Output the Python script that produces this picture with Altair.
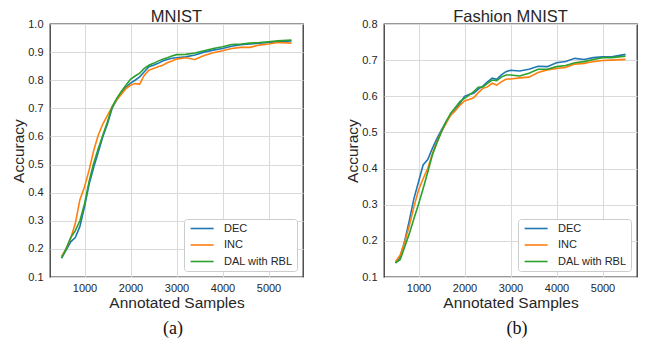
import altair as alt
import pandas as pd

samples = [500, 600, 700, 800, 900, 1000, 1100, 1200, 1300, 1400, 1500, 1600, 1700, 1800, 1900,
           2000, 2100, 2200, 2300, 2400, 2500, 2600, 2700, 2800, 2900, 3000, 3200, 3400, 3600,
           3800, 4000, 4200, 4400, 4600, 4800, 5000, 5200, 5500]

series_names = ["DEC", "INC", "DAL with RBL"]
series_colors = ["#1f77b4", "#ff7f0e", "#2ca02c"]

mnist_dec = [0.167, 0.196, 0.225, 0.240, 0.280, 0.350, 0.430, 0.490, 0.545, 0.600, 0.645, 0.700,
             0.730, 0.753, 0.775, 0.790, 0.800, 0.812, 0.830, 0.848, 0.853, 0.860, 0.868, 0.874,
             0.878, 0.880, 0.883, 0.890, 0.900, 0.907, 0.913, 0.921, 0.926, 0.929, 0.932, 0.934,
             0.937, 0.940]
mnist_inc = [0.173, 0.200, 0.238, 0.290, 0.375, 0.420, 0.480, 0.550, 0.605, 0.645, 0.675, 0.705,
             0.730, 0.750, 0.770, 0.782, 0.788, 0.786, 0.818, 0.836, 0.842, 0.848, 0.853, 0.862,
             0.868, 0.875, 0.880, 0.874, 0.888, 0.898, 0.905, 0.913, 0.917, 0.917, 0.925, 0.929,
             0.934, 0.932]
mnist_dal = [0.167, 0.200, 0.240, 0.265, 0.300, 0.360, 0.440, 0.505, 0.557, 0.605, 0.652, 0.705,
             0.735, 0.760, 0.782, 0.803, 0.815, 0.825, 0.842, 0.853, 0.860, 0.868, 0.875, 0.880,
             0.886, 0.891, 0.892, 0.897, 0.905, 0.913, 0.919, 0.927, 0.929, 0.932, 0.934, 0.937,
             0.940, 0.943]

fashion_dec = [0.139, 0.155, 0.200, 0.256, 0.317, 0.363, 0.410, 0.425, 0.455, 0.483, 0.507, 0.530,
               0.548, 0.562, 0.580, 0.600, 0.605, 0.608, 0.620, 0.628, 0.640, 0.650, 0.647, 0.659,
               0.668, 0.672, 0.670, 0.675, 0.683, 0.682, 0.693, 0.696, 0.705, 0.702, 0.707, 0.709,
               0.709, 0.716]
fashion_inc = [0.142, 0.160, 0.196, 0.242, 0.294, 0.340, 0.372, 0.400, 0.440, 0.474, 0.502, 0.525,
               0.548, 0.560, 0.575, 0.587, 0.591, 0.596, 0.610, 0.622, 0.626, 0.636, 0.631, 0.640,
               0.647, 0.648, 0.651, 0.653, 0.666, 0.673, 0.677, 0.680, 0.689, 0.691, 0.696, 0.699,
               0.700, 0.702]
fashion_dal = [0.139, 0.148, 0.183, 0.220, 0.261, 0.301, 0.344, 0.390, 0.437, 0.471, 0.502, 0.530,
               0.553, 0.569, 0.585, 0.594, 0.603, 0.613, 0.625, 0.626, 0.636, 0.645, 0.643, 0.653,
               0.659, 0.659, 0.656, 0.664, 0.675, 0.675, 0.682, 0.685, 0.693, 0.696, 0.702, 0.707,
               0.707, 0.711]

x_ticks = [1000, 2000, 3000, 4000, 5000]
mnist_y_ticks = [0.1, 0.2, 0.3, 0.4, 0.5, 0.6, 0.7, 0.8, 0.9, 1.0]
fashion_y_ticks = [0.1, 0.2, 0.3, 0.4, 0.5, 0.6, 0.7, 0.8]

W, H = 253, 253
FONT = "Liberation Sans"
TXT = "#262626"


def make_df(vals):
    rows = []
    for name, ys in zip(series_names, vals):
        for x, y in zip(samples, ys):
            rows.append({"samples": x, "acc": y, "method": name})
    return pd.DataFrame(rows)


def panel(vals, title, yticks, caption, cap_x):
    df = make_df(vals)
    lines = alt.Chart(df).mark_line(strokeWidth=1.6).encode(
        x=alt.X("samples:Q",
                scale=alt.Scale(domain=[250, 5750], nice=False, zero=False),
                axis=alt.Axis(values=x_ticks, title="Annotated Samples", format="d")),
        y=alt.Y("acc:Q",
                scale=alt.Scale(domain=[yticks[0], yticks[-1]], nice=False, zero=False),
                axis=alt.Axis(values=yticks, title="Accuracy", format=".1f")),
        color=alt.Color("method:N",
                        scale=alt.Scale(domain=series_names, range=series_colors),
                        sort=series_names,
                        legend=alt.Legend(title=None, orient="bottom-right", offset=6,
                                          fillColor="white", strokeColor="#cccccc",
                                          cornerRadius=3, padding=4,
                                          symbolType="M-1,0H7", symbolSize=33,
                                          symbolStrokeWidth=1.6,
                                          labelFont=FONT, labelFontSize=11,
                                          labelColor=TXT, rowPadding=4.5,
                                          labelOffset=25)),
    )
    ttl = alt.Chart(pd.DataFrame({"t": [title]})).mark_text(
        font=FONT, fontSize=16.5, color=TXT, baseline="alphabetic"
    ).encode(
        text="t:N",
        x=alt.value(W / 2),
        y=alt.value(-2),
    )
    cap = alt.Chart(pd.DataFrame({"cap": [caption]})).mark_text(
        font="Liberation Serif", fontSize=18, color="#111111", baseline="middle"
    ).encode(
        text="cap:N",
        x=alt.value(cap_x),
        y=alt.value(H + 52),
    )
    return alt.layer(lines, ttl, cap).properties(width=W, height=H)


left = panel([mnist_dec, mnist_inc, mnist_dal], "MNIST", mnist_y_ticks, "(a)", 123)
right = panel([fashion_dec, fashion_inc, fashion_dal], "Fashion MNIST", fashion_y_ticks, "(b)", 133)

chart = alt.hconcat(left, right, spacing=41).resolve_scale(color="independent").configure(
    padding={"left": 3, "top": 0, "right": 0, "bottom": 0},
    background="white",
).configure_view(
    stroke="#333333", strokeWidth=1.3,
).configure_axis(
    grid=True, gridColor="#dadada", gridWidth=1.1,
    domain=False, ticks=False,
    labelFont=FONT, labelFontSize=11, labelColor=TXT,
    titleFont=FONT, titleFontSize=15.5, titleFontWeight="normal", titleColor=TXT,
).configure_axisX(labelPadding=5, titlePadding=2).configure_axisY(labelPadding=7, titlePadding=1)

chart.save("out.html", embed_options={"renderer": "svg", "actions": False})
